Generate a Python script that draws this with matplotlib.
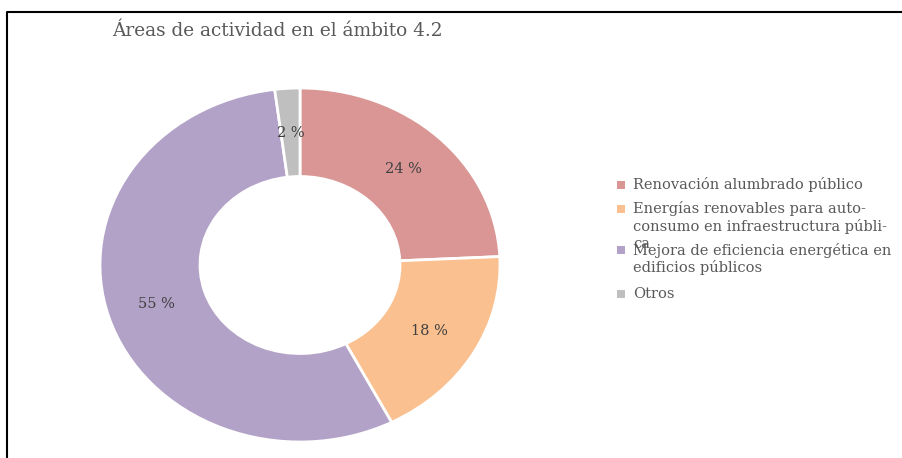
import matplotlib.pyplot as plt
from matplotlib.patches import Rectangle
from matplotlib.lines import Line2D

plt.rcParams['font.family'] = ['DejaVu Serif', 'Liberation Serif']

title = "Áreas de actividad en el ámbito 4.2"
values = [24, 18, 55, 2]
colors = ["#D99694", "#FAC090", "#B3A2C7", "#BFBFBF"]
legend_lines = [
    ["Renovación alumbrado público"],
    ["Energías renovables para auto-", "consumo en infraestructura públi-", "ca"],
    ["Mejora de eficiencia energética en", "edificios públicos"],
    ["Otros"],
]

W, H = 902, 458
fig = plt.figure(figsize=(W / 100, H / 100), dpi=100)

def px(x, y):
    return x / W, 1 - y / H

# donut drawn as ellipse like the original (stretched axes)
ax = fig.add_axes([100 / W, 16 / H, 400 / W, 354 / H])
total = sum(values)
wedges, texts, autotexts = ax.pie(
    values, colors=colors, startangle=90, counterclock=False,
    radius=1.0, pctdistance=0.75,
    autopct=lambda p: f"{p * total / 100:.0f} %",
    wedgeprops=dict(width=0.5, edgecolor="white", linewidth=2),
    textprops=dict(color="#404040", fontsize=10.5),
)
ax.set_aspect('auto')
ax.set_xlim(-1, 1)
ax.set_ylim(-1, 1)
ax.axis('off')

fig.text(*px(112, 31), title, fontsize=13.3, color="#595959", va="center", ha="left")

# legend
first_y = [185, 209, 250, 294]
for lines, col, y0 in zip(legend_lines, colors, first_y):
    x0, y0f = px(617, y0 + 4)
    fig.add_artist(Rectangle((x0, y0f), 8 / W, 8 / H, transform=fig.transFigure,
                             facecolor=col, edgecolor="none"))
    for i, line in enumerate(lines):
        fig.text(*px(633, y0 + i * 17.5), line, fontsize=10.5, color="#595959",
                 va="center", ha="left")

# chart border (top and left edges visible)
fig.add_artist(Line2D([7 / W, 7 / W, 1], [0, 1 - 12 / H, 1 - 12 / H],
                      transform=fig.transFigure, color="black", linewidth=1.5))

fig.savefig("out.png", dpi=100)
